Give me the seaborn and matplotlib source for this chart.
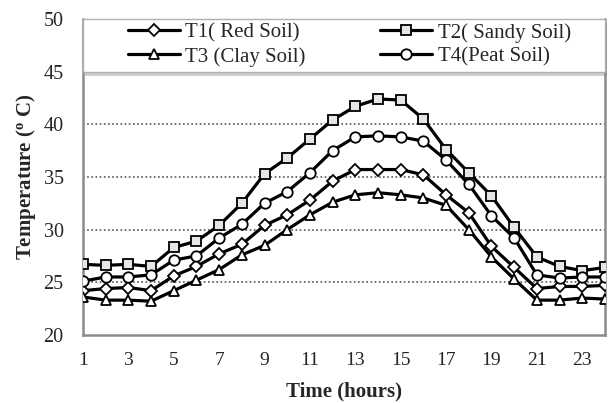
import numpy as np
import pandas as pd
import matplotlib
matplotlib.use("Agg")
import matplotlib.pyplot as plt
from matplotlib.ticker import MultipleLocator
from matplotlib.patches import Rectangle
import matplotlib.patheffects as pe
import seaborn as sns

hours = list(range(1, 25))
t1_red = [24.2, 24.4, 24.5, 24.2, 25.6, 26.5, 27.7, 28.6, 30.4, 31.4, 32.8, 34.6,
          35.7, 35.7, 35.7, 35.2, 33.3, 31.6, 28.4, 26.4, 24.4, 24.6, 24.6, 24.7]
t2_sandy = [26.7, 26.6, 26.7, 26.5, 28.3, 28.9, 30.4, 32.5, 35.3, 36.8, 38.6, 40.4,
            41.7, 42.4, 42.3, 40.5, 37.6, 35.4, 33.2, 30.2, 27.4, 26.5, 26.1, 26.4]
t3_clay = [23.6, 23.3, 23.3, 23.2, 24.2, 25.2, 26.2, 27.6, 28.5, 30.0, 31.4, 32.6,
           33.3, 33.5, 33.3, 33.0, 32.3, 30.0, 27.4, 25.3, 23.3, 23.3, 23.5, 23.4]
t4_peat = [25.1, 25.5, 25.5, 25.7, 27.1, 27.5, 29.2, 30.5, 32.5, 33.6, 35.4, 37.5,
           38.8, 38.9, 38.8, 38.4, 36.6, 34.3, 31.3, 29.2, 25.7, 25.4, 25.5, 25.5]
labels = ["T1( Red Soil)", "T2( Sandy Soil)", "T3 (Clay Soil)", "T4(Peat Soil)"]

sns.set_style("white")
plt.rcParams["font.family"] = ["Liberation Serif", "DejaVu Serif"]
plt.rcParams["mathtext.fontset"] = "stix"

fig = plt.figure(figsize=(6.08, 4.03), dpi=100)
ax = fig.add_axes([0.1365, 0.169, 0.8585, 0.784])

series = [t1_red, t2_sandy, t3_clay, t4_peat]
markers = ["D", "s", "^", "o"]
msizes = [6.5, 7, 7, 7.5]
faces = ["white", "#e6e6e6", "white", "white"]
for vals, lab, m, ms, fc in zip(series, labels, markers, msizes, faces):
    sns.lineplot(x=hours, y=vals, ax=ax, color="black", linewidth=2.3,
                 marker=m, markersize=ms, markerfacecolor=fc,
                 markeredgecolor="black", markeredgewidth=1.3, label=lab,
                 zorder=3)

ax.set_xlim(1, 24)
ax.set_ylim(20, 50)
ax.xaxis.set_minor_locator(MultipleLocator(1))
ax.set_xticks(range(1, 25, 2))
ax.yaxis.set_major_locator(MultipleLocator(5))
ax.yaxis.set_minor_locator(MultipleLocator(2.5))
ax.tick_params(axis="x", which="major", direction="inout", length=9, width=1.5,
               color="#8c8c8c", labelsize=14, pad=8)
ax.tick_params(axis="x", which="minor", direction="in", length=5, width=1.5,
               color="#8c8c8c")
ax.tick_params(axis="y", which="major", direction="out", length=4, width=1.5,
               color="#8c8c8c", labelsize=14.5, pad=10)
ax.tick_params(axis="y", which="minor", direction="in", length=5, width=1.5,
               color="#8c8c8c")

for y in [25, 30, 35, 40, 45, 50]:
    ax.axhline(y, color="#555555", linestyle=(0, (1, 1.5)), linewidth=1.2, zorder=1)

for side in ["left", "bottom", "right"]:
    ax.spines[side].set_color("#8c8c8c")
    ax.spines[side].set_linewidth(1.8)
ax.spines["top"].set_visible(False)

ax.set_xlabel("Time (hours)", fontsize=15, fontweight="bold", labelpad=9)
ax.set_ylabel("Temperature ($\\mathregular{^o}$ C)", fontsize=15, fontweight="bold",
              labelpad=4)

# legend box across the top of the plot, with a soft shadow
box = Rectangle((0, 0.833), 1, 0.167, transform=ax.transAxes, facecolor="white",
                edgecolor="#b0b0b0", linewidth=1.0, zorder=4, clip_on=False,
                path_effects=[pe.SimplePatchShadow(offset=(1.5, -3), alpha=0.35,
                                                   shadow_rgbFace="#777777"),
                              pe.Normal()])
ax.add_patch(box)

handles, labs = ax.get_legend_handles_labels()
order = [0, 2, 1, 3]
leg = ax.legend([handles[i] for i in order], [labs[i] for i in order], ncol=2,
                loc="center", bbox_to_anchor=(0.51, 0.918), fontsize=15,
                frameon=False, handlelength=2.5, handletextpad=0.25,
                borderpad=0.0, labelspacing=0.2, columnspacing=3.6)
leg.set_zorder(5)

fig.savefig("out.png", dpi=100)
